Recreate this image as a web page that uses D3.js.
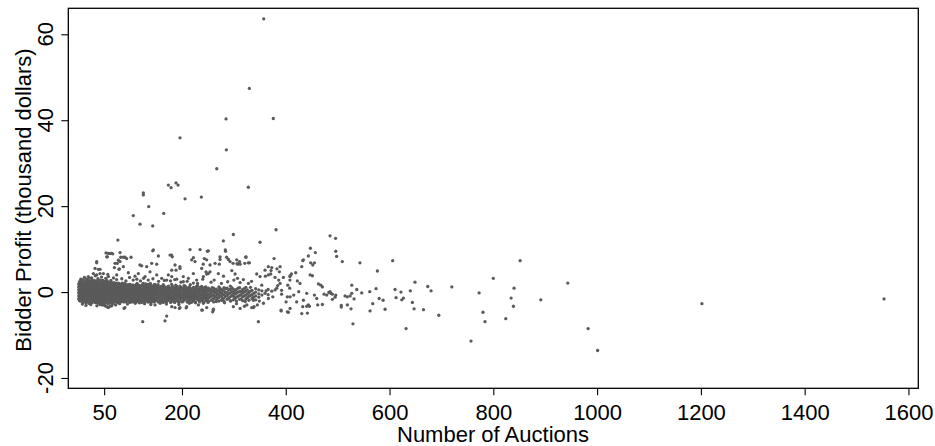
<!DOCTYPE html>
<html>
<head>
<meta charset="utf-8">
<script src="https://cdnjs.cloudflare.com/ajax/libs/d3/7.8.5/d3.min.js"></script>
<style>
body{margin:0;background:#fff}
svg{display:block;font-family:"Liberation Sans",Arial,sans-serif}
</style>
</head>
<body>
<script>
// tick labels
var xTicks = [50,200,400,600,800,1000,1200,1400,1600];
var yTicks = [-20,0,20,40,60];

// dense band round zero: [auctions, [profits ...]]
var band = [
 [1,[-1.6,-0.9,-0.2,0.5,1.2,1.9]],
 [4,[-2.1,-1.3,-0.6,0.1,0.8,1.5,2.2]],
 [7,[-1.8,-1.0,-0.3,0.4,1.1,1.8,2.6]],
 [10,[-2.3,-1.5,-0.7,0,0.7,1.4,2.1]],
 [13,[-1.9,-1.2,-0.4,0.3,1.0,1.7,2.4]],
 [16,[-2.2,-1.4,-0.6,0.2,0.9,1.6,2.3,3.0]],
 [19,[-1.7,-1.0,-0.2,0.5,1.2,1.9,2.6]],
 [22,[-2.4,-1.5,-0.8,0,0.7,1.4,2.2]],
 [25,[-1.9,-1.1,-0.4,0.3,1.0,1.8,2.5]],
 [28,[-2.2,-1.4,-0.6,0.1,0.8,1.6,2.3]],
 [31,[-1.8,-1.0,-0.3,0.4,1.1,1.9,2.7]],
 [34,[-2.5,-1.6,-0.8,0,0.7,1.5,2.2]],
 [37,[-2.0,-1.2,-0.5,0.3,1.0,1.7,2.5]],
 [40,[-2.3,-1.5,-0.7,0.1,0.8,1.5,2.3]],
 [43,[-1.8,-1.0,-0.3,0.5,1.2,2.0,2.8]],
 [46,[-2.6,-1.7,-0.9,-0.1,0.6,1.4,2.1]],
 [49,[-2.1,-1.3,-0.5,0.2,1.0,1.7,2.5]],
 [52,[-3.1,-2.4,-1.6,-0.8,0,0.7,1.5,2.2]],
 [55,[-1.9,-1.1,-0.3,0.4,1.2,1.9,2.7]],
 [58,[-2.7,-1.5,-0.7,0.1,0.8,1.6,2.3]],
 [61,[-2.0,-1.2,-0.4,0.3,1.1,1.8]],
 [64,[-2.4,-1.6,-0.8,-0.1,0.6,1.4,2.2]],
 [67,[-1.8,-1.0,-0.2,0.5,1.2,2.0]],
 [70,[-2.2,-1.4,-0.6,0.1,0.9,1.6]],
 [73,[-1.7,-0.9,-0.2,0.6,1.3,2.1]],
 [76,[-2.5,-1.3,-0.5,0.2,1.0,1.7]],
 [79,[-1.9,-1.1,-0.3,0.4,1.1,1.9]],
 [82,[-2.2,-1.4,-0.7,0,0.8,1.5]],
 [85,[-1.6,-0.9,-0.1,0.6,1.3,2.1]],
 [88,[-2.3,-1.5,-0.7,0.1,0.9,1.6]],
 [91,[-1.8,-1.0,-0.3,0.5,1.2]],
 [94,[-2.0,-1.3,-0.5,0.2,1.0,1.7]],
 [97,[-1.7,-0.9,-0.1,0.6,1.4]],
 [100,[-2.4,-1.2,-0.4,0.3,1.1,1.8]],
 [103,[-1.9,-1.1,-0.3,0.5,1.2]],
 [106,[-2.1,-1.4,-0.6,0.1,0.9,1.6]],
 [109,[-1.6,-0.8,0,0.7,1.4]],
 [112,[-2.2,-1.3,-0.5,0.2,1.0,1.8]],
 [115,[-1.8,-1.0,-0.2,0.5,1.3]],
 [118,[-2.5,-1.5,-0.7,0.1,0.8,1.5]],
 [121,[-1.9,-1.1,-0.3,0.4,1.2]],
 [124,[-2.2,-1.4,-0.6,0.2,0.9,1.7]],
 [127,[-1.7,-0.9,-0.1,0.6,1.3]],
 [130,[-2.1,-1.3,-0.5,0.3,1.0,1.9]],
 [133,[-1.6,-0.8,0,0.7,1.5]],
 [136,[-2.3,-1.5,-0.6,0.1,0.9]],
 [139,[-1.9,-1.1,-0.3,0.5,1.3,2.0]],
 [142,[-2.2,-1.4,-0.6,0.2,1.0]],
 [145,[-1.7,-0.9,-0.1,0.6,1.4]],
 [148,[-2.0,-1.2,-0.4,0.4,1.1,1.8]],
 [152,[-1.6,-0.8,0,0.8,1.5]],
 [156,[-2.1,-1.3,-0.5,0.3,1.0]],
 [160,[-1.8,-1.0,-0.2,0.6,1.3]],
 [164,[-2.4,-1.4,-0.6,0.2,0.9,1.7]],
 [168,[-1.7,-0.9,-0.1,0.7]],
 [172,[-2.0,-1.2,-0.4,0.4,1.2]],
 [176,[-1.5,-0.7,0.1,0.9]],
 [180,[-2.2,-1.3,-0.5,0.3,1.1,1.8]],
 [184,[-1.8,-1.0,-0.2,0.5]],
 [188,[-1.4,-0.6,0.2,1.0,1.6]],
 [192,[-2.1,-1.1,-0.3,0.5]],
 [196,[-1.6,-0.8,0,0.8,1.4]],
 [200,[-2.3,-1.3,-0.5,0.3]],
 [204,[-1.7,-0.9,-0.1,0.7,1.5]],
 [208,[-1.2,-0.4,0.4,1.1]],
 [212,[-2.0,-1.0,-0.2,0.6]],
 [216,[-1.5,-0.7,0.1,0.9,1.7]],
 [220,[-2.2,-1.2,-0.4,0.4]],
 [224,[-1.6,-0.8,0,0.8]],
 [228,[-1.1,-0.3,0.5,1.3]],
 [232,[-1.9,-0.9,-0.1,0.7]],
 [236,[-1.4,-0.6,0.2,1.0]],
 [240,[-2.0,-0.9,-0.1,0.6]],
 [244,[-1.3,-0.5,0.3,1.1]],
 [248,[-1.7,-0.8,0,0.8]],
 [253,[-1.2,-0.4,0.5]],
 [258,[-1.8,-0.7,0.2,1.0]],
 [263,[-1.1,-0.2,0.6]],
 [268,[-1.5,-0.6,0.3]],
 [273,[-0.9,0,0.9]],
 [278,[-1.6,-0.5,0.4]],
 [284,[-1.0,-0.1,0.8]],
 [290,[-1.4,-0.4,0.5]],
 [296,[-0.8,0.1,1.0]],
 [302,[-1.5,-0.5,0.3]],
 [308,[-1.0,0,0.9]],
 [314,[-1.6,-0.6,0.2]],
 [320,[-0.9,0,0.8]],
 [326,[-1.3,-0.4,0.5]],
 [332,[-0.8,0.2,1.1]],
 [338,[-1.2,-0.3]]
];

// second layer of the band, between the columns above
var bandMid = [
 [2.5,[-2.0,-1.3,-0.6,0.2,0.9,1.6,2.4]],
 [5.5,[-1.7,-0.9,-0.2,0.5,1.3,2.0]],
 [8.5,[-2.4,-1.6,-0.9,-0.1,0.6,1.4,2.2,2.9]],
 [11.5,[-1.8,-1.0,-0.3,0.4,1.2,1.9]],
 [14.5,[-2.5,-1.6,-0.8,-0.1,0.6,1.4,2.1,2.8]],
 [17.5,[-2.0,-1.1,-0.3,0.5,1.3,2.0]],
 [20.5,[-2.6,-1.8,-1.1,-0.4,0.3,1.0,1.7,2.4]],
 [23.5,[-2.1,-1.2,-0.5,0.2,0.9,1.6,2.3]],
 [26.5,[-2.5,-1.7,-0.9,-0.2,0.5,1.2,2.0,2.7]],
 [29.5,[-1.9,-1.1,-0.4,0.3,1.0,1.8]],
 [32.5,[-2.4,-1.4,-0.6,0.1,0.9,1.6,2.4]],
 [35.5,[-2.0,-1.2,-0.4,0.4,1.1,1.9,2.6]],
 [38.5,[-2.6,-1.7,-0.9,-0.1,0.6,1.3,2.0]],
 [41.5,[-2.1,-1.2,-0.5,0.3,1.0,1.8,2.5]],
 [44.5,[-2.4,-1.4,-0.6,0.2,0.9,1.7]],
 [47.5,[-2.0,-1.1,-0.3,0.4,1.2,2.0,2.7]],
 [50.5,[-2.5,-1.7,-0.9,-0.2,0.5,1.3,2.0]],
 [53.5,[-2.1,-1.3,-0.5,0.3,1.0,1.8,2.5]],
 [56.5,[-2.4,-1.6,-0.8,0,0.7,1.5,2.2]],
 [59.5,[-1.9,-1.1,-0.3,0.5,1.3,2.0]],
 [62.5,[-2.5,-1.6,-0.8,-0.1,0.7,1.5,2.3]],
 [65.5,[-2.1,-1.3,-0.5,0.3,1.0,1.8]],
 [68.5,[-2.4,-1.6,-0.8,0,0.7,1.4,2.2]],
 [71.5,[-2.0,-1.1,-0.3,0.5,1.2,1.9]],
 [74.5,[-2.3,-1.5,-0.7,0.1,0.9,1.7]],
 [77.5,[-2.0,-1.0,-0.2,0.6,1.4,2.1]],
 [80.5,[-2.4,-1.5,-0.7,0.1,0.8,1.6]],
 [83.5,[-1.9,-1.1,-0.3,0.4,1.2,1.9]],
 [86.5,[-2.2,-1.3,-0.5,0.3,1.0,1.7]],
 [89.5,[-2.0,-1.1,-0.3,0.5,1.3,2.0]],
 [92.5,[-2.3,-1.5,-0.7,0.1,0.8,1.5]],
 [95.5,[-1.8,-1.0,-0.2,0.6,1.3]],
 [98.5,[-2.2,-1.4,-0.6,0.2,1.0,1.8]],
 [101.5,[-1.9,-1.0,-0.2,0.6,1.4]],
 [104.5,[-2.3,-1.5,-0.7,0.1,0.8,1.6]],
 [107.5,[-1.9,-1.1,-0.3,0.4,1.2]],
 [110.5,[-2.3,-1.6,-0.8,-0.1,0.6,1.4]],
 [113.5,[-2.0,-1.1,-0.3,0.5,1.2,2.0]],
 [116.5,[-2.3,-1.4,-0.6,0.2,0.9,1.6]],
 [119.5,[-1.8,-1.0,-0.2,0.6,1.3]],
 [122.5,[-2.4,-1.5,-0.7,0.1,0.8,1.5]],
 [125.5,[-1.9,-1.0,-0.3,0.5,1.2,2.0]],
 [128.5,[-2.2,-1.4,-0.6,0.2,0.9]],
 [131.5,[-1.8,-1.0,-0.2,0.6,1.4]],
 [134.5,[-2.3,-1.4,-0.6,0.2,1.0,1.8]],
 [137.5,[-1.9,-1.1,-0.3,0.5,1.2]],
 [140.5,[-2.4,-1.5,-0.7,0.1,0.8,1.6]],
 [143.5,[-1.9,-1.1,-0.3,0.5,1.2]],
 [146.5,[-2.3,-1.4,-0.6,0.2,1.0,1.7]],
 [150,[-1.9,-1.0,-0.2,0.6,1.2]],
 [154,[-2.3,-1.4,-0.6,0.2,1.0,1.7]],
 [158,[-1.9,-1.1,-0.3,0.5,1.2]],
 [162,[-2.2,-1.4,-0.6,0.2,1.0]],
 [166,[-2.0,-1.1,-0.3,0.5,1.3]],
 [170,[-2.3,-1.4,-0.6,0.2,0.9]],
 [174,[-1.9,-1.0,-0.2,0.6,1.4]],
 [178,[-2.4,-1.6,-0.8,0,0.7]],
 [182,[-2.0,-1.1,-0.3,0.5,1.3]],
 [186,[-2.3,-1.5,-0.6,0.2,0.9]],
 [190,[-1.9,-1.0,-0.2,0.6,1.3]],
 [194,[-2.4,-1.5,-0.7,0.1,0.9]],
 [198,[-2.0,-1.2,-0.4,0.4,1.1]],
 [202,[-2.2,-1.4,-0.6,0.2,0.9]],
 [206,[-1.8,-1.0,-0.2,0.6,1.4]],
 [210,[-2.3,-1.5,-0.7,0.1,0.8]],
 [214,[-1.9,-1.1,-0.3,0.5,1.2]],
 [218,[-2.4,-1.6,-0.8,0,0.7]],
 [222,[-2.0,-1.2,-0.4,0.4,1.1]],
 [226,[-2.3,-1.4,-0.6,0.2,1.0]],
 [230,[-1.7,-0.9,-0.1,0.7,1.5]],
 [234,[-2.3,-1.4,-0.6,0.3,1.0]],
 [238,[-1.9,-1.1,-0.3,0.5,1.3]],
 [242,[-2.4,-1.5,-0.7,0.1,0.9]],
 [246,[-2.0,-1.2,-0.4,0.4,1.2]],
 [251,[-2.2,-1.4,-0.6,0.2,0.9]],
 [256,[-1.9,-1.0,-0.2,0.6]],
 [261,[-2.3,-1.5,-0.7,0.1,0.9]],
 [266,[-1.8,-0.9,-0.1,0.7]],
 [271,[-2.1,-1.3,-0.4,0.4,1.2]],
 [276,[-1.9,-1.0,-0.2,0.6]],
 [281,[-2.2,-1.4,-0.6,0.2,1.0]],
 [287,[-1.7,-0.8,0,0.9]],
 [293,[-2.0,-1.1,-0.2,0.6,1.4]],
 [299,[-1.8,-1.0,-0.1,0.7]],
 [305,[-2.1,-1.2,-0.3,0.6]],
 [311,[-1.7,-0.8,0.1,1.0]],
 [317,[-2.0,-1.1,-0.2,0.6]],
 [323,[-1.6,-0.7,0.2,1.1]],
 [329,[-1.9,-1.0,-0.1]],
 [335,[-1.5,-0.6,0.4]],
 [342,[-1.8,-0.9,0.0,0.8]],
 [348,[-1.2,-0.4,0.5]],
 [354,[-0.7,0.3]],
 [366,[-0.6,0.6]],
 [392,[-0.5,0.4]]
];

// points just outside the band
var fringe = [
 [5,3.0],[12,3.4],[18,2.9],[26,3.3],[33,3.8],[38,3.1],[45,3.5],[53,3.2],[57,4.1],[63,2.7],
 [68,3.3],[74,2.9],[84,3.1],[92,2.6],[99,3.4],[106,2.8],[113,3.0],[120,2.6],[126,3.2],[135,2.8],
 [144,3.1],[155,2.5],[166,2.7],[178,2.6],[186,2.9],[198,2.3],[210,2.5],[222,2.1],[230,2.0],[256,2.3],
 [262,2.8],[276,2.0],[288,2.4],[300,2.8],[312,2.2],[334,2.5],
 [8,-2.8],[15,-3.1],[24,-2.9],[36,-3.2],[42,-2.9],[58,-3.6],[66,-2.8],[72,-3.0],[80,-2.7],[95,-2.8],
 [110,-2.6],[128,-2.7],[140,-2.9],[158,-2.6],[170,-2.8],[186,-2.4],[194,-2.9],[214,-2.6],[226,-2.5],[250,-2.4],
 [266,-2.2],[282,-2.5],[294,-2.1],[305,-2.7],[322,-2.2],
 [45.3,-3.0],[52,-3.2],[64.5,-3.2],[90,-3.6],[186.6,-3.6],[195,-3.8],[208,-3.7],[239.3,-4.2],[247.6,-3.6],[260.5,-4.2],
 [320.3,-3.3],[337.6,-3.6],[445.5,-3.3]
];

// scattered points, roughly -8 to 10
var spread = [
 [249,9.5],[243,7.8],[241,6.5],[238,5.5],[284,9.5],[286,8.1],[289.4,7.6],[273.4,7.6],[272,6.5],[298.4,6.7],
 [307.4,6.5],[312,6.5],[321,6.7],[330,6.8],[323,8.1],[377.4,7.8],[373,5.7],[371.6,5.0],[389,5.9],[387.7,4.7],
 [371,4.2],[366.5,4.0],[360.7,3.7],[379.4,3.4],[386.4,2.8],[395.4,3.4],[408.3,3.8],[411,4.2],[419.2,4.5],[422.4,2.6],
 [403.8,1.6],[407.6,0.9],[389,2.0],[384.5,1.5],[382.6,0.9],[379.4,0.5],[373,0.2],[375,-1.1],[362,0.3],[353.7,1.6],
 [360,-0.3],[366.5,-1.5],[357,-2.6],[349,-2.1],[345.3,-3.0],[339,-3.4],[347.2,-6.9],[427.5,2.0],[425,0.1],[415.3,-0.7],
 [408.3,-1.1],[403,-1.1],[400.6,-2.3],[408.3,-3.8],[391,-4.4],[405,-4.7],[421,-2.3],[434,-1.9],[440.4,-0.3],[447,4.0],
 [451.3,3.8],[452,6.3],[455.2,6.8],[443.6,8.4],[432.7,7.3],[463,1.9],[467.4,1.6],[470.6,1.2],[474,-0.5],[479,-0.7],
 [483,-0.1],[486.7,-0.3],[459.7,-1.5],[455.2,-0.7],[461.6,-3.0],[443.6,-3.0],[441.7,-4.9],[432.7,-3.4],[470.6,-2.9],
 [263.7,6.7],[254,4.7],[270,4.3],[280,3.7],[296,5.0],[302.3,4.2],[307,3.2],[318.3,2.9],[328,2.0],[247.6,4.2],
 [240,3.0],[238,-4.2],[260.5,-4.0],[259.2,-4.6],[299,-3.4],[312,-3.8],[325,-3.0],[334.4,-3.6],[337.6,-1.9],
 [61.3,9.0],[66.4,8.9],[56.2,8.2],[80.6,9.2],[90.2,8.1],[101.8,8.1],[80.6,7.1],[71,6.7],[69.7,5.7],[87,5.9],
 [79.3,5.4],[35.6,6.8],[42,5.3],[32.4,5.5],[29.2,4.3],[19.5,3.6],[119,6.3],[132,5.9],[141.6,6.7],[151.3,6.5],
 [154.5,8.4],[177,8.6],[181.4,8.2],[186.6,6.3],[188.5,5.1],[196.2,5.5],[180.2,5.1],[173.7,4.0],[189.8,3.0],[202.6,3.6],
 [218.7,7.5],[225.1,7.1],[247.6,7.5],[246.3,4.7],[221.9,4.3],
 [124.3,-6.9],[170.5,-5.6],[167.3,-6.7],[88.3,-3.8],[48.5,-3.0],[54.9,-3.4],[61.3,-3.3],[148,-3.0],[180.2,-3.4],[196.2,-3.6],
 [209,-3.4],[231.6,-3.0],[241.2,-2.6],
 [22.7,3.2],[35.6,4.0],[48.5,4.3],[58.1,3.6],[74.2,4.0],[96.6,4.5],[109.5,3.7],[115.9,4.3],[128.8,3.6],[138.4,4.7],
 [151.3,4.0],[160.9,3.2],[170.5,2.8],[180.2,3.6],[202.6,2.4],[212.3,3.2],[228.3,2.8],[241.2,3.6],[250.8,4.3],
 [53.6,9.1],[64.6,9.0],[82,8.1],[75.4,6.7],[78.6,5.3],[122.4,6.1],[180,8.6],[196,5.9],[222,8.0],[254,6.3],
 [273.3,8.2],[292.6,7.1],[306,6.6],[311,7.1],[323.4,8.2],[327.9,6.8],[344,4.2],[350.4,3.6],[360,5.1],[366.4,5.9],
 [383,5.4],[305.5,7.5],[434,7.5],[430.8,5.9],[448,6.8],[408,3.6],[408,2.8],[391,-4.2],[403,-4.6],[430.8,-5.0],
 [440.4,-3.3],[58,9.0],[55,8.2],[77.4,7.4],[87,8.1],[93.4,7.8],[35.6,7.1],[38.8,5.3],[42,4.3],
 [580,-1.5],[587.5,-1.9],[591.4,-4.0],[567.6,-2.7],[562.4,-4.4],[561.9,0.1],[574,0.8],[546.4,-0.2],[536.8,0.6],[527.2,1.6],
 [527.2,-0.3],[531.6,-1.6],[525.8,-3.9],[529.5,-7.4],[514.3,-0.9],[518.7,-1.1],[524,-0.9],[518.7,-3.0],[507,-3.1],[507,-3.5],
 [485.4,0.1],[489.8,-0.5],[489.8,-1.7],[496.4,-0.7],[495,-1.2]
];

// big profits and the long right tail
var outliers = [
 [357.5,63.6],[329.8,47.4],[284.9,40.3],[376,40.4],[196.2,35.9],[285.5,33.1],[267,28.7],[125.5,23.1],[125.5,22.6],[173.7,24.9],
 [178.9,24.3],[188.5,25.4],[192.4,24.9],[327.9,24.4],[205.9,21.7],[237.3,22.1],[135.9,19.9],[106.2,17.8],[164.8,18.3],[119.1,15.8],
 [143.6,15.4],[381.3,14.5],[76.5,12.1],[299,13.4],[279.7,11.9],[350.4,11.6],[215.5,9.9],[234.8,9.9],[250.8,9.6],[143.6,9.6],
 [144.8,9.8],[283.5,9.8],[447.4,10.2],[457,9.2],[485.3,13.1],[496,12.5],[496.4,9.5],[498,8.3],[509,7.1],[543,6.8],
 [606,7.3],[576.6,4.9],[851.6,7.3],[800,3.2],[943.5,2.1],[840,0.9],[772.6,-0.2],[720,1.2],[673.7,1.3],[680,0.3],
 [649,2.3],[640,0.3],[622,0],[626.8,-1.4],[623.6,-1.8],[610.6,0.6],[612.6,-1.3],[644,-2.4],[647.3,-3.9],[665.4,-4.1],
 [694.9,-5.4],[631.8,-8.5],[757,-11.4],[780,-4.7],[784,-6.9],[824,-6.2],[834.3,-1.4],[838.8,-3.3],[891.5,-1.8],[982.7,-8.5],
 [1001,-13.6],[1202,-2.7],[1553,-1.6]
];

var width = 935, height = 446;
var plotL = 68.3, plotR = 918.3, plotT = 8.3, plotB = 388.3;

var x = d3.scaleLinear().domain([-19.1, 1619]).range([plotL, plotR]);
var y = d3.scaleLinear().domain([-22.4, 66.05]).range([plotB, plotT]);

var svg = d3.select("body").append("svg")
  .attr("width", width)
  .attr("height", height);

// columns -> [auctions, profit] pairs
function unfold(cols){
  return cols.flatMap(function(c){ return c[1].map(function(v){ return [c[0], v]; }); });
}
var pts = unfold(band).concat(unfold(bandMid), fringe, spread, outliers);

svg.append("g").selectAll("circle")
  .data(pts).enter()
  .append("circle")
  .attr("cx", function(d){ return x(d[0]); })
  .attr("cy", function(d){ return y(d[1]); })
  .attr("r", 1.65)
  .attr("fill", "#5a5a5a");

// frame
svg.append("rect")
  .attr("x", plotL).attr("y", plotT)
  .attr("width", plotR - plotL).attr("height", plotB - plotT)
  .attr("fill", "none").attr("stroke", "#000").attr("stroke-width", 1.3);

// x axis
var gx = svg.append("g")
  .attr("transform", "translate(0," + plotB + ")")
  .call(d3.axisBottom(x).tickValues(xTicks).tickSize(7).tickPadding(9).tickFormat(d3.format("d")));
gx.select(".domain").remove();
gx.selectAll("line").attr("stroke", "#000").attr("stroke-width", 1.1);
gx.selectAll("text").attr("font-size", 22).attr("fill", "#000")
  .attr("font-family", "Liberation Sans, Arial, sans-serif");

// y axis, labels turned on their side
var gy = svg.append("g")
  .attr("transform", "translate(" + plotL + ",0)")
  .call(d3.axisLeft(y).tickValues(yTicks).tickSize(7).tickFormat(""));
gy.select(".domain").remove();
gy.selectAll("line").attr("stroke", "#000").attr("stroke-width", 1.1);

svg.append("g").selectAll("text")
  .data(yTicks).enter()
  .append("text")
  .attr("transform", function(d){ return "translate(53.3," + y(d) + ") rotate(-90)"; })
  .attr("text-anchor", "middle")
  .attr("font-size", 22)
  .text(function(d){ return d; });

// axis titles
svg.append("text")
  .attr("x", 493).attr("y", 441.7)
  .attr("text-anchor", "middle")
  .attr("font-size", 22)
  .text("Number of Auctions");

svg.append("text")
  .attr("transform", "translate(31,200) rotate(-90)")
  .attr("text-anchor", "middle")
  .attr("font-size", 22)
  .text("Bidder Profit (thousand dollars)");
</script>
</body>
</html>
